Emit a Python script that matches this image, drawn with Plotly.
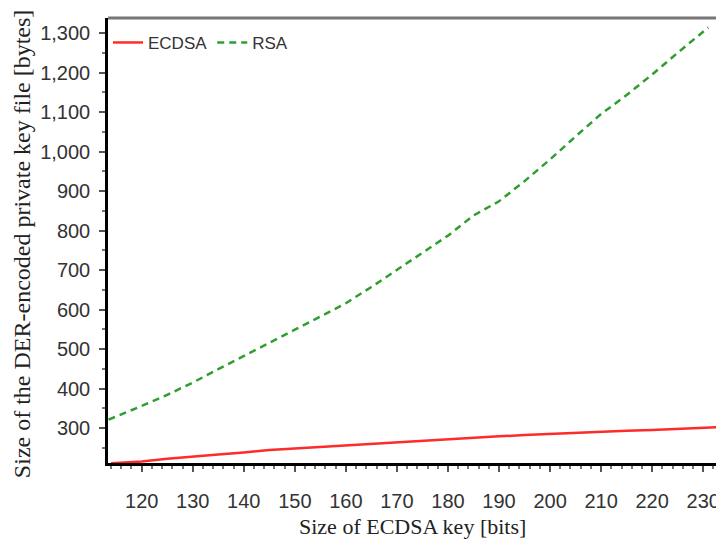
import plotly.graph_objects as go

# ECDSA key size (bits) vs DER-encoded private key file size (bytes)
ecdsa_bits = [114, 116, 120, 125, 130, 135, 140, 145, 150, 155, 160, 165, 170,
              175, 180, 185, 190, 195, 200, 205, 210, 215, 220, 225, 230, 233]
ecdsa_bytes = [211, 212, 215, 222, 228, 233, 238, 244, 248, 252, 256, 260, 263,
               268, 272, 276, 279, 282, 285, 287, 290, 293, 295, 298, 300, 302]

rsa_bits = [113.5, 116, 118, 120, 125, 130, 135, 140, 145, 150, 155, 160, 165, 170,
            175, 180, 185, 190, 195, 200, 205, 210, 215, 220, 225, 231]
rsa_bytes = [321, 334, 345, 356, 384, 415, 449, 483, 516, 549, 582, 616, 657, 700,
             745, 787, 838, 874, 925, 980, 1038, 1095, 1143, 1195, 1250, 1314]

x_ticks = [120, 130, 140, 150, 160, 170, 180, 190, 200, 210, 220, 230]
y_ticks = [300, 400, 500, 600, 700, 800, 900, 1000, 1100, 1200, 1300]

fig = go.Figure()
fig.add_trace(go.Scatter(x=ecdsa_bits, y=ecdsa_bytes, mode="lines", name="ECDSA",
                         line=dict(color="#ff2a2a", width=2.5)))
fig.add_trace(go.Scatter(x=rsa_bits, y=rsa_bytes, mode="lines", name="RSA",
                         line=dict(color="#2f9e2f", width=2.5, dash="7px,5px")))

tickfont = dict(family="Liberation Sans, Arial, sans-serif", size=20, color="#333333")

# page body has an 8px default margin, so the figure is 8px smaller and margins shifted
fig.update_layout(
    width=716, height=532,
    margin=dict(l=100, r=4, t=10, b=77),
    paper_bgcolor="white", plot_bgcolor="white",
    showlegend=True,
    legend=dict(orientation="h", x=0.0, y=0.944, xanchor="left", yanchor="middle",
                font=dict(family="Liberation Sans, Arial, sans-serif", size=17, color="#333333"),
                bgcolor="rgba(0,0,0,0)", itemwidth=30, tracegroupgap=0),
    xaxis=dict(range=[113.4, 232.7], tickvals=x_ticks, ticks="outside", ticklen=6,
               tickwidth=1.5, tickcolor="#555555",
               minor=dict(dtick=2, tick0=120, ticks="outside", ticklen=3, tickcolor="#777777"),
               showline=True, linecolor="black", linewidth=2.5, showgrid=False, zeroline=False,
               tickfont=tickfont, ticklabelstandoff=12),
    yaxis=dict(range=[211.4, 1338], tickvals=y_ticks, tickformat=",d", ticks="outside",
               ticklen=6, tickwidth=1.5, tickcolor="#555555",
               minor=dict(dtick=50, tick0=300, ticks="outside", ticklen=3, tickcolor="#777777"),
               showline=True, linecolor="black", linewidth=2.5, showgrid=False, zeroline=False,
               tickfont=tickfont, ticklabelstandoff=5),
    shapes=[
        dict(type="line", xref="paper", yref="paper", x0=0, x1=1, y0=1, y1=1,
             line=dict(color="#777777", width=3)),
        dict(type="line", xref="paper", yref="paper", x0=1, x1=1, y0=0, y1=1,
             line=dict(color="#777777", width=2)),
    ],
    annotations=[
        dict(text="Size of ECDSA key [bits]", xref="paper", yref="paper",
             x=0.5, y=-0.1416, xanchor="center", yanchor="middle", showarrow=False,
             font=dict(family="Liberation Serif, Times New Roman, serif", size=22, color="#222222")),
        dict(text="Size of the DER-encoded private key file [bytes]", xref="paper", yref="paper",
             x=-0.142, y=0.493, xanchor="center", yanchor="middle", textangle=-90, showarrow=False,
             font=dict(family="Liberation Serif, Times New Roman, serif", size=24, color="#222222")),
    ],
)

fig.write_html("out.html")
